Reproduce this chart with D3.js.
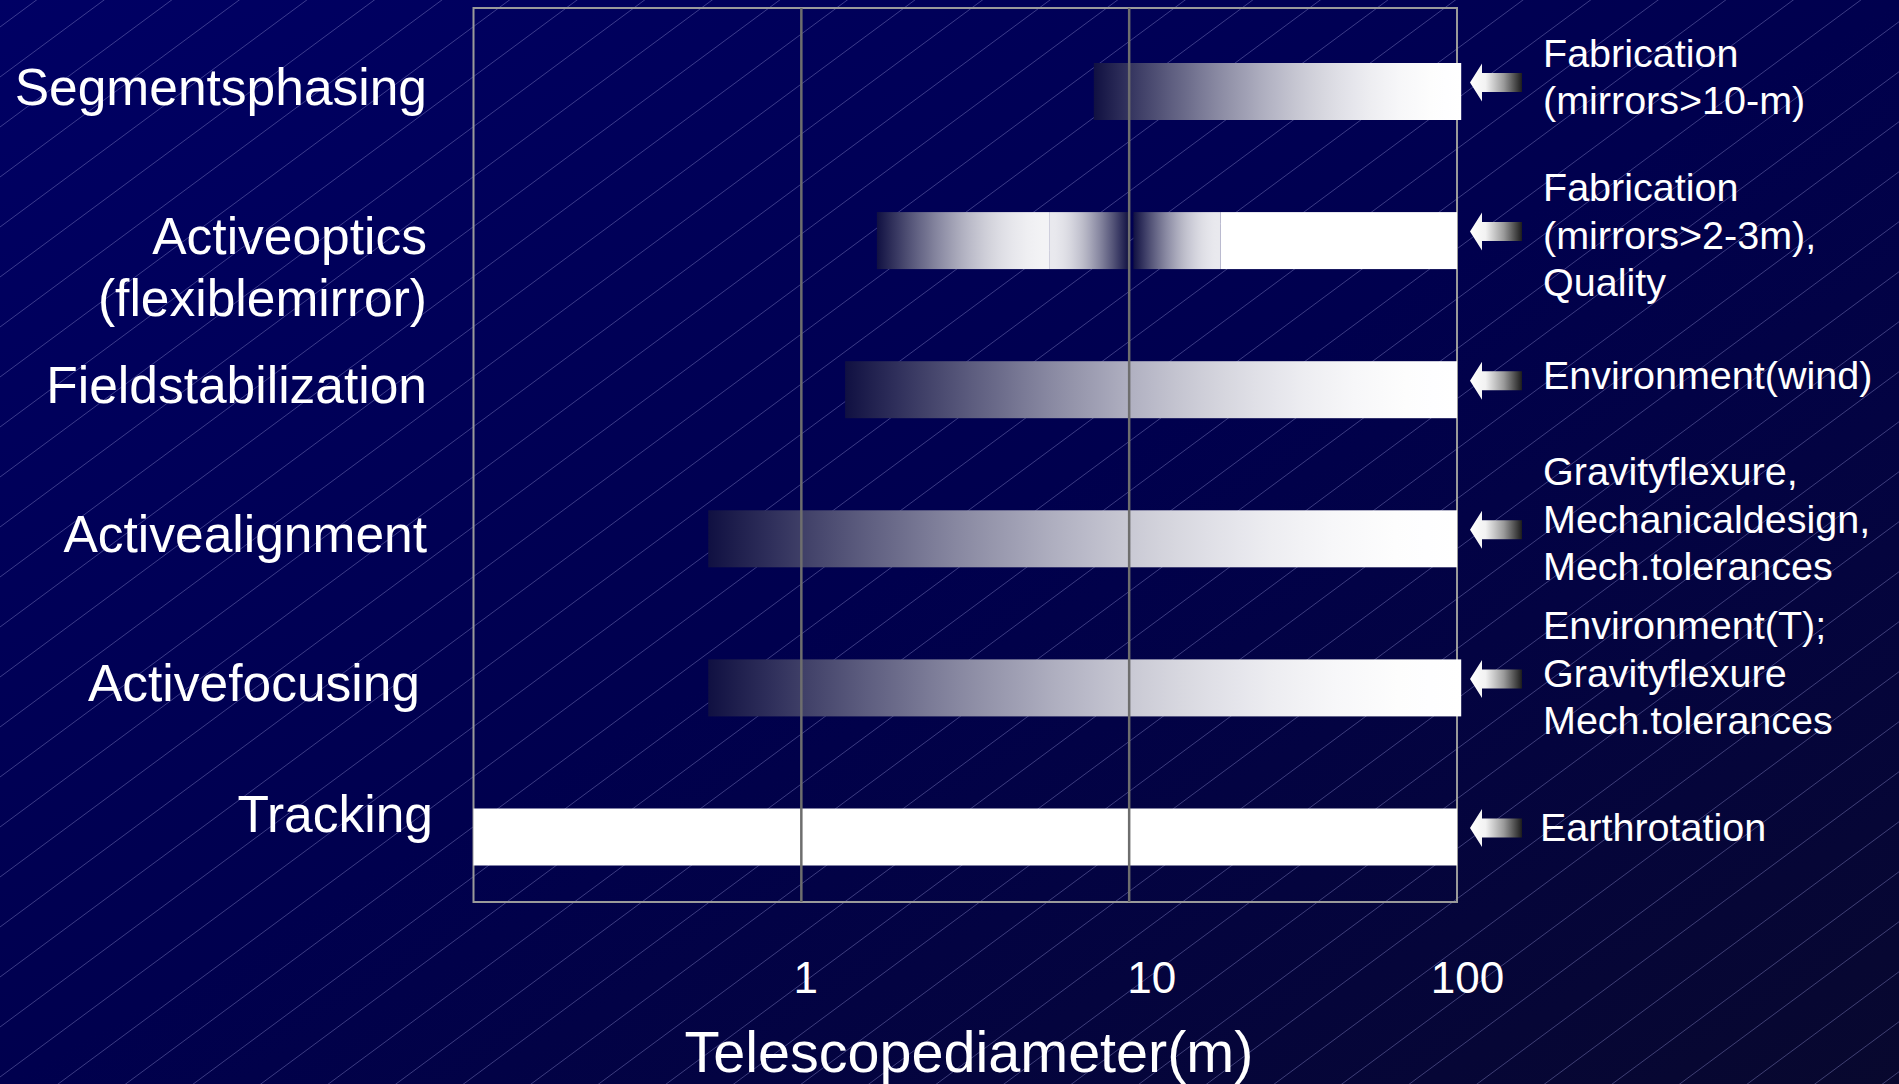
<!DOCTYPE html>
<html>
<head>
<meta charset="utf-8">
<script src="https://cdn.jsdelivr.net/npm/d3@7"></script>
<style>
  html, body { margin: 0; padding: 0; background: #000050; overflow: hidden; }
  text { font-family: "Liberation Sans", Arial, Helvetica, sans-serif; fill: #ffffff; }
</style>
</head>
<body>
<svg id="chart" width="1899" height="1084"></svg>
<script>
// Control techniques and the range of telescope diameters (m) over which each is needed
const techniques = ["Segmentsphasing", "Activeoptics", "Fieldstabilization", "Activealignment", "Activefocusing", "Tracking"];
const techniqueLabels = [
  ["Segmentsphasing"],
  ["Activeoptics", "(flexiblemirror)"],
  ["Fieldstabilization"],
  ["Activealignment"],
  ["Activefocusing"],
  ["Tracking"]
];
// What drives the need for each technique
const drivers = [
  ["Fabrication", "(mirrors>10-m)"],
  ["Fabrication", "(mirrors>2-3m),", "Quality"],
  ["Environment(wind)"],
  ["Gravityflexure,", "Mechanicaldesign,", "Mech.tolerances"],
  ["Environment(T);", "Gravityflexure", "Mech.tolerances"],
  ["Earthrotation"]
];
// Shading ramps along each bar: [from diameter, to diameter, tone at start, tone at end]
// tone 0 = dark, 1 = white
const ramps = [
  [[7.8, 103, 0, 1]],
  [[1.7, 5.7, 0, 0.95], [5.7, 10, 0.91, 0], [10.3, 19, 0, 0.91], [19, 100, 1, 1]],
  [[1.36, 100, 0, 1]],
  [[0.52, 100, 0, 1]],
  [[0.52, 103, 0, 1]],
  [[0.1, 100, 1, 1]]
];
const diameterDomain = [0.1, 100];
const diameterTicks = [1, 10, 100];
const axisTitle = "Telescopediameter(m)";

const W = 1899, H = 1084;
const svg = d3.select("#chart");
const defs = svg.append("defs");

// ---- background: diagonal navy gradient with thin hatch lines ----
const bgGrad = defs.append("linearGradient").attr("id", "bg")
  .attr("x1", 0).attr("y1", 0).attr("x2", 1).attr("y2", 1);
bgGrad.append("stop").attr("offset", 0).attr("stop-color", "#000064");
bgGrad.append("stop").attr("offset", 0.5).attr("stop-color", "#00004e");
bgGrad.append("stop").attr("offset", 1).attr("stop-color", "#08082e");
svg.append("rect").attr("width", W).attr("height", H).attr("fill", "url(#bg)");

const hatchSlope = 0.74, hatchGap = 50, hatchPhase = 27;
const hatchCount = Math.ceil((H + hatchSlope * W) / hatchGap) + 1;
svg.append("g").selectAll("line")
  .data(d3.range(hatchCount))
  .join("line")
  .attr("x1", 0).attr("y1", k => hatchPhase + k * hatchGap)
  .attr("x2", W).attr("y2", k => hatchPhase + k * hatchGap - hatchSlope * W)
  .attr("stroke", "rgba(150,150,215,0.4)")
  .attr("stroke-width", 1);

// ---- scales ----
const plot = { left: 473.5, right: 1457, top: 8, bottom: 902 };
const x = d3.scaleLog().domain(diameterDomain).range([plot.left, plot.right]);
const y = d3.scalePoint().domain(techniques).range([91.5, 837]);
const barH = 57;

// plot frame
svg.append("rect")
  .attr("x", plot.left).attr("y", plot.top)
  .attr("width", plot.right - plot.left).attr("height", plot.bottom - plot.top)
  .attr("fill", "none").attr("stroke", "#9a9a9a").attr("stroke-width", 2);

// ---- bars: each ramp segment gets its own gradient ----
const dark = d3.rgb(16, 16, 66);
const toneColor = t => d3.interpolateRgb(dark, "#ffffff")(t);
function toneAt(seg, f) {
  const [, , a, b] = seg;
  if (a === b) return a;
  return a < b ? a + (b - a) * d3.easeSinOut(f) : b + (a - b) * d3.easeSinOut(1 - f);
}

const segs = [];
ramps.forEach((list, i) => list.forEach((seg, j) => segs.push({ cat: techniques[i], seg, id: `ramp-${i}-${j}` })));

segs.forEach(s => {
  const g = defs.append("linearGradient").attr("id", s.id)
    .attr("x1", 0).attr("y1", 0).attr("x2", 1).attr("y2", 0);
  d3.range(0, 1.0001, 1 / 24).forEach(f => {
    g.append("stop").attr("offset", f).attr("stop-color", toneColor(toneAt(s.seg, f)));
  });
});

svg.append("g").selectAll("rect")
  .data(segs)
  .join("rect")
  .attr("x", d => x(d.seg[0]))
  .attr("width", d => x(d.seg[1]) - x(d.seg[0]))
  .attr("y", d => y(d.cat) - barH / 2)
  .attr("height", barH)
  .attr("fill", d => `url(#${d.id})`);

// vertical gridlines at 1 m and 10 m, drawn over the bars
svg.append("g").selectAll("line")
  .data(diameterTicks.filter(v => v < diameterDomain[1]))
  .join("line")
  .attr("x1", d => x(d)).attr("x2", d => x(d))
  .attr("y1", plot.top).attr("y2", plot.bottom)
  .attr("stroke", "#6e6e6e").attr("stroke-width", 2.5);

// ---- arrows pointing from each driver to its bar ----
const arrowGrad = defs.append("linearGradient").attr("id", "arrowFill")
  .attr("x1", 0).attr("y1", 0).attr("x2", 1).attr("y2", 0);
arrowGrad.append("stop").attr("offset", 0).attr("stop-color", "#ffffff");
arrowGrad.append("stop").attr("offset", 0.3).attr("stop-color", "#f2f2f2");
arrowGrad.append("stop").attr("offset", 0.65).attr("stop-color", "#9a9a9a");
arrowGrad.append("stop").attr("offset", 1).attr("stop-color", "#1c1c1c");

const arrowPath = d3.path();
// tip at (0,0), head 12 wide and 38 tall, shaft 19 tall reaching 52
arrowPath.moveTo(0, 0);
arrowPath.lineTo(12, -19);
arrowPath.lineTo(12, -9.5);
arrowPath.lineTo(52, -9.5);
arrowPath.lineTo(52, 9.5);
arrowPath.lineTo(12, 9.5);
arrowPath.lineTo(12, 19);
arrowPath.closePath();

svg.append("g").selectAll("path")
  .data(techniques)
  .join("path")
  .attr("d", arrowPath.toString())
  .attr("transform", d => `translate(${plot.right + 13},${y(d) - 9})`)
  .attr("fill", "url(#arrowFill)");

// ---- technique labels (left) ----
const leftShift = { "Activefocusing": [-7, 0], "Tracking": [6, -18] };
const leftG = svg.append("g");
techniques.forEach((t, i) => {
  const [dx, dy] = leftShift[t] || [0, 0];
  const base = y(t) + 13 + dy;
  leftG.append("text")
    .attr("text-anchor", "end")
    .attr("font-size", 51.5)
    .selectAll("tspan")
    .data(techniqueLabels[i])
    .join("tspan")
    .attr("x", 427 + dx)
    .attr("y", (d, k) => base + k * 62)
    .text(d => d);
});

// ---- driver labels (right) ----
const lineGap = 47.5;
const rightShift = { "Activeoptics": 9, "Activealignment": -5, "Tracking": 5 };
const rightG = svg.append("g");
techniques.forEach((t, i) => {
  const lines = drivers[i];
  const first = y(t) - 1 + (rightShift[t] || 0) - (lines.length - 1) * lineGap / 2;
  rightG.append("text")
    .attr("font-size", 39.5)
    .selectAll("tspan")
    .data(lines)
    .join("tspan")
    .attr("x", t === "Tracking" ? 1540 : 1543)
    .attr("y", (d, k) => first + k * lineGap)
    .text(d => d);
});

// ---- diameter axis ----
const tickDx = { 1: 4, 10: 22, 100: 10 };
const axis = d3.axisBottom(x).tickValues(diameterTicks).tickFormat(d3.format("d")).tickSize(0);
const axisG = svg.append("g").attr("transform", "translate(0,993)").call(axis);
axisG.select(".domain").remove();
axisG.selectAll("text")
  .attr("y", 0).attr("dy", 0).attr("dx", d => tickDx[d] || 0)
  .attr("fill", "#ffffff")
  .attr("font-size", 44)
  .attr("font-family", "\"Liberation Sans\", Arial, sans-serif");

svg.append("text")
  .attr("x", 969).attr("y", 1072)
  .attr("text-anchor", "middle")
  .attr("font-size", 57.5)
  .text(axisTitle);
</script>
</body>
</html>
